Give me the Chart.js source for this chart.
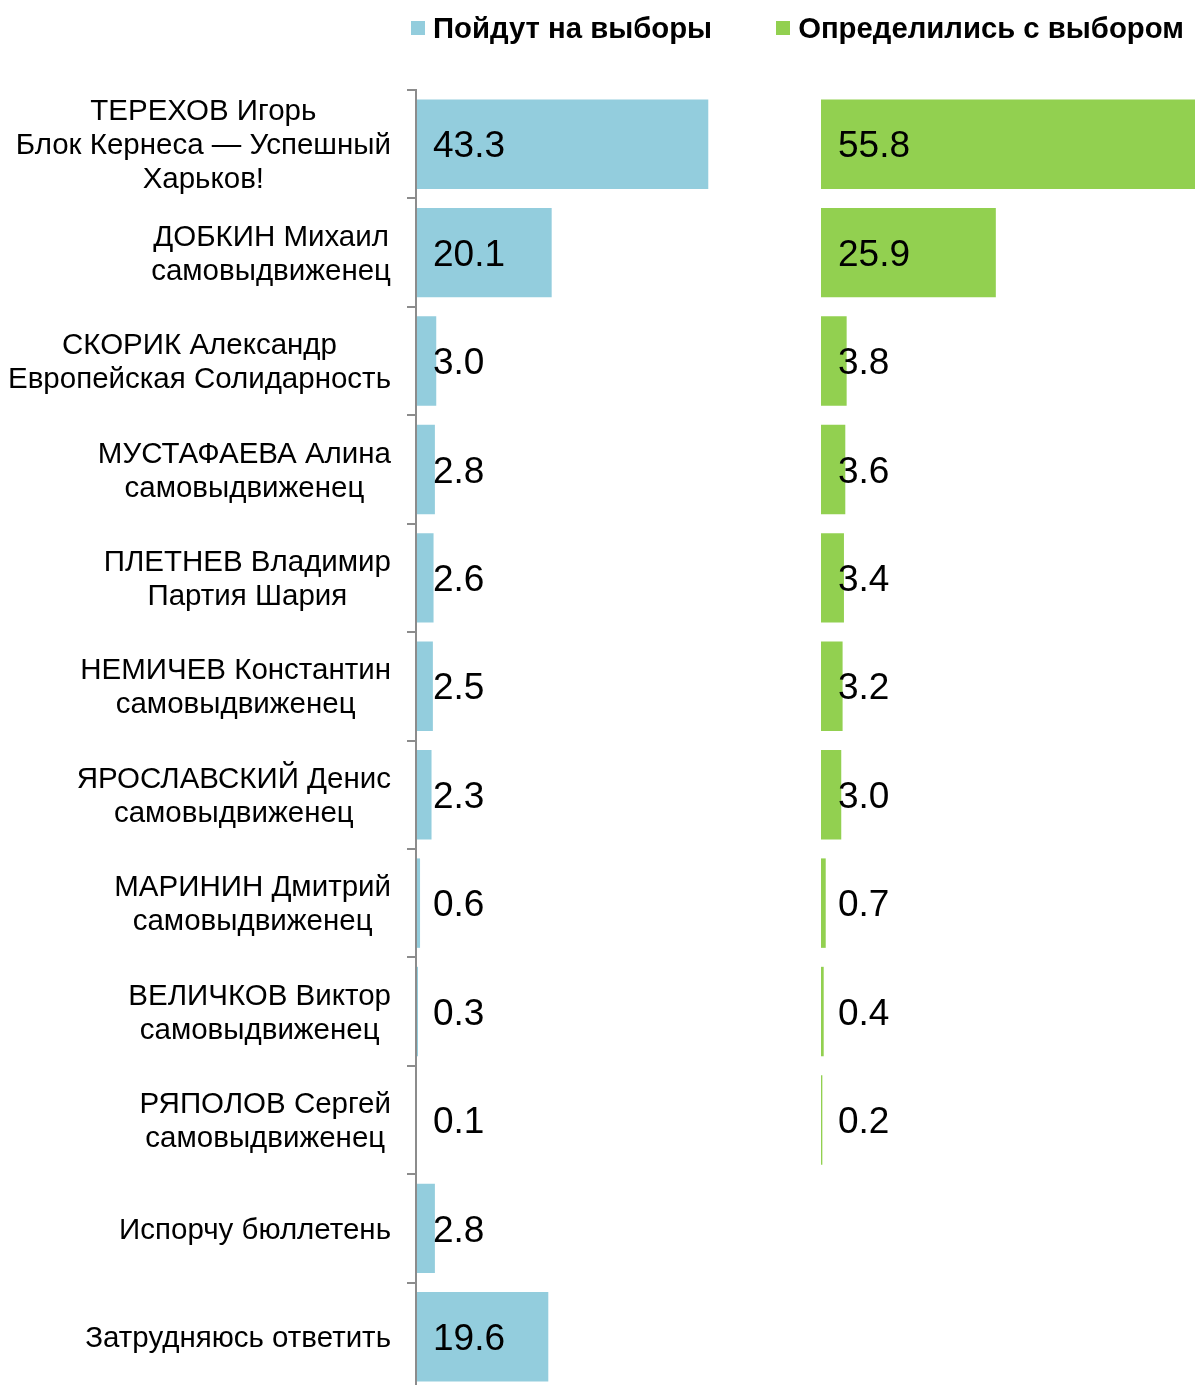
<!DOCTYPE html>
<html lang="ru">
<head>
<meta charset="utf-8">
<title>Харьков — рейтинг кандидатов</title>
<script src="https://cdn.jsdelivr.net/npm/chart.js@4.4.1/dist/chart.umd.min.js"></script>
<style>
    html, body { margin: 0; padding: 0; background: #fff; overflow: hidden; }
    #wrap { position: relative; width: 1226px; height: 1391px; }
    #leyenda {
        position: absolute; left: 411px; top: 14px;
        display: flex; align-items: center;
        font: bold 29.3px "Liberation Sans", Arial, sans-serif; color: #000;
    }
    #leyenda .item { display: flex; align-items: center; line-height: 28px; }
    #leyenda .item + .item { margin-left: 64px; }
    #leyenda .caja { width: 14px; height: 14px; margin-right: 8px; }
</style>
</head>
<body>
<div id="wrap">
    <div id="leyenda"></div>
    <canvas id="graficoCandidatos" width="1226" height="1391"></canvas>
</div>
<script>
// categorías (cada línea del rótulo separada)
const candidatos = [
    ['ТЕРЕХОВ Игорь', 'Блок Кернеса — Успешный', 'Харьков!'],
    ['ДОБКИН Михаил', 'самовыдвиженец'],
    ['СКОРИК Александр', 'Европейская Солидарность'],
    ['МУСТАФАЕВА Алина', 'самовыдвиженец'],
    ['ПЛЕТНЕВ Владимир', 'Партия Шария'],
    ['НЕМИЧЕВ Константин', 'самовыдвиженец'],
    ['ЯРОСЛАВСКИЙ Денис', 'самовыдвиженец'],
    ['МАРИНИН Дмитрий', 'самовыдвиженец'],
    ['ВЕЛИЧКОВ Виктор', 'самовыдвиженец'],
    ['РЯПОЛОВ Сергей', 'самовыдвиженец'],
    ['Испорчу бюллетень'],
    ['Затрудняюсь ответить']
];

const pojdutNaVybory = [43.3, 20.1, 3.0, 2.8, 2.6, 2.5, 2.3, 0.6, 0.3, 0.1, 2.8, 19.6];
const opredelilis = [55.8, 25.9, 3.8, 3.6, 3.4, 3.2, 3.0, 0.7, 0.4, 0.2, null, null];

const nombresSeries = ['Пойдут на выборы', 'Определились с выбором'];
const coloresSeries = ['#93CDDD', '#92D050'];

const fuente = '"Liberation Sans", Arial, sans-serif';

// rótulos del eje Y: bloque alineado a la derecha, líneas centradas
const rotulosEjeY = {
    id: 'rotulosEjeY',
    afterDraw(chart) {
        const ctx = chart.ctx;
        const escala = chart.scales.y;
        const alto = 34;
        ctx.save();
        ctx.font = '29.5px ' + fuente;
        ctx.fillStyle = '#000';
        ctx.textAlign = 'center';
        ctx.textBaseline = 'middle';
        candidatos.forEach((lineas, i) => {
            const cy = escala.getPixelForValue(i) + 2;
            const ancho = Math.max(...lineas.map(l => ctx.measureText(l).width));
            const cx = escala.right - 25 - ancho / 2;
            lineas.forEach((l, j) => {
                ctx.fillText(l, cx, cy + (j - (lineas.length - 1) / 2) * alto);
            });
        });
        ctx.restore();
    }
};

// valores dentro de cada barra, pegados al inicio del panel
const valoresBarras = {
    id: 'valoresBarras',
    afterDatasetsDraw(chart) {
        const ctx = chart.ctx;
        ctx.save();
        ctx.font = '37px ' + fuente;
        ctx.fillStyle = '#000';
        ctx.textAlign = 'left';
        ctx.textBaseline = 'middle';
        chart.data.datasets.forEach((ds, i) => {
            const meta = chart.getDatasetMeta(i);
            const escalaX = chart.scales[meta.xAxisID];
            meta.data.forEach((barra, j) => {
                const v = ds.data[j];
                if (v === null || v === undefined) return;
                ctx.fillText(v.toFixed(1), escalaX.left + 17, barra.y + 3);
            });
        });
        ctx.restore();
    }
};

// leyenda en HTML, generada a partir de los datasets
const leyendaHtml = {
    id: 'leyendaHtml',
    afterUpdate(chart) {
        const cont = document.getElementById('leyenda');
        cont.innerHTML = '';
        chart.data.datasets.forEach(ds => {
            const item = document.createElement('div');
            item.className = 'item';
            const caja = document.createElement('span');
            caja.className = 'caja';
            caja.style.background = ds.backgroundColor;
            const texto = document.createElement('span');
            texto.textContent = ds.label;
            item.appendChild(caja);
            item.appendChild(texto);
            cont.appendChild(item);
        });
    }
};

const ctx = document.getElementById('graficoCandidatos').getContext('2d');

new Chart(ctx, {
    type: 'bar',
    data: {
        labels: candidatos,
        datasets: [{
            label: nombresSeries[0],
            data: pojdutNaVybory,
            backgroundColor: coloresSeries[0],
            xAxisID: 'x1'
        }, {
            label: nombresSeries[1],
            data: opredelilis,
            backgroundColor: coloresSeries[1],
            xAxisID: 'x2'
        }]
    },
    options: {
        indexAxis: 'y',
        responsive: false,
        animation: false,
        layout: { padding: { top: 90, left: 0, right: 0, bottom: 0 } },
        datasets: {
            bar: {
                grouped: false,
                categoryPercentage: 1,
                barPercentage: 0.825,
                borderWidth: 0
            }
        },
        scales: {
            y: {
                type: 'category',
                grid: {
                    display: true,
                    offset: true,
                    drawOnChartArea: false,
                    drawTicks: true,
                    tickLength: 9,
                    color: '#8c8c8c',
                    lineWidth: 2
                },
                border: { display: true, color: '#8c8c8c', width: 2, z: 1 },
                ticks: { display: false },
                afterFit: escala => { escala.width = 416; }
            },
            x1: {
                type: 'linear',
                position: 'bottom',
                stack: 'paneles',
                stackWeight: 1,
                min: 0,
                max: 60,
                display: false
            },
            x2: {
                type: 'linear',
                position: 'bottom',
                stack: 'paneles',
                stackWeight: 1,
                min: 0,
                max: 60,
                display: false
            }
        },
        plugins: {
            legend: { display: false },
            tooltip: { enabled: false }
        }
    },
    plugins: [rotulosEjeY, valoresBarras, leyendaHtml]
});
</script>
</body>
</html>
